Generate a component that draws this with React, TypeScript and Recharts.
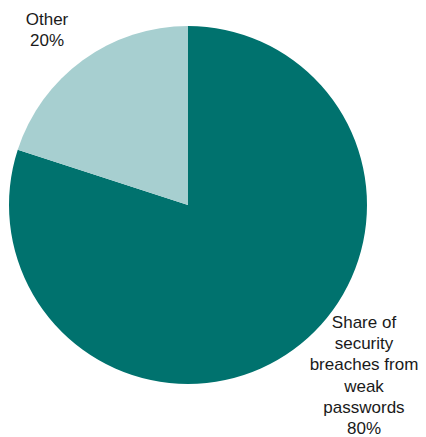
import React from 'react';
import { PieChart, Pie, Cell } from 'recharts';

const categories = ['Share of security breaches from weak passwords', 'Other'];
const shares = [80, 20];
const labelLines = [
  ['Share of', 'security', 'breaches from', 'weak', 'passwords', '80%'],
  ['Other', '20%'],
];
const colors = ['#00726e', '#a7cfd0'];

const data = categories.map((name, i) => ({ name, value: shares[i] }));

// where each label block sits (center x, first baseline)
const labelSpots = [
  { x: 364, y: 328 },
  { x: 47, y: 25 },
];

const renderLabel = (props: any) => {
  const spot = labelSpots[props.index];
  const lines = labelLines[props.index];
  return (
    <text
      x={spot.x}
      y={spot.y}
      textAnchor="middle"
      fill="#1a1a1a"
      fontSize={17}
      fontFamily="'Liberation Sans', Arial, sans-serif"
    >
      {lines.map((line, i) => (
        <tspan key={i} x={spot.x} dy={i === 0 ? 0 : 21.2}>
          {line}
        </tspan>
      ))}
    </text>
  );
};

const App = () => {
  return (
    <div style={{ position: 'absolute', left: 0, top: 0, background: '#fff' }}>
      <PieChart width={426} height={437} margin={{ top: 0, right: 0, bottom: 0, left: 0 }}>
        <Pie
          data={data}
          dataKey="value"
          cx={188}
          cy={205}
          outerRadius={179}
          startAngle={90}
          endAngle={-270}
          stroke="none"
          label={renderLabel}
          labelLine={false}
          isAnimationActive={false}
        >
          {data.map((entry, index) => (
            <Cell key={`cell-${index}`} fill={colors[index]} />
          ))}
        </Pie>
      </PieChart>
    </div>
  );
};

export default App;
